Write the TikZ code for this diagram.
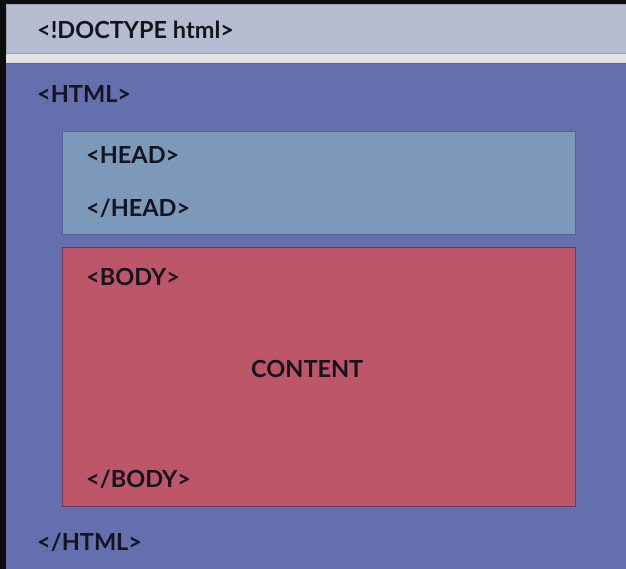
\documentclass[tikz,border=0pt]{standalone}
\usepackage{fontspec}
\setmainfont{Lato}
\definecolor{bgc}{HTML}{0D0D0D}
\definecolor{barc}{HTML}{B7BDD0}
\definecolor{barb}{HTML}{9A9EB4}
\definecolor{stripc}{HTML}{E2E2E2}
\definecolor{htmlc}{HTML}{6470AD}
\definecolor{headc}{HTML}{7D99B9}
\definecolor{headb}{HTML}{56619A}
\definecolor{bodyc}{HTML}{BD5669}
\definecolor{bodyb}{HTML}{6A3A5A}
\definecolor{txtc}{HTML}{14141E}
\tikzset{
  tag/.style={anchor=base west, inner sep=0pt, text=txtc, font=\fontsize{23.5}{27}\selectfont\bfseries},
}
\begin{document}
\begin{tikzpicture}[x=1pt,y=-1pt]
\fill[bgc] (0,0) rectangle (626,569);
\useasboundingbox (0,0) rectangle (626,569);
% light strip behind bar bottom
\fill[stripc] (6,50) rectangle (626,64);
% doctype bar
\filldraw[fill=barc, draw=barb, line width=0.8pt] (6,4) rectangle (630,53);
% html box
\fill[htmlc] (6,63) rectangle (626,569);
\draw[headb, line width=0.8pt] (6,63) -- (626,63);
% head
\node[draw=headb, fill=headc, line width=1pt, minimum width=513pt, minimum height=103pt, anchor=north west, inner sep=0pt] (head) at (61.5,131.5) {};
% body
\node[draw=bodyb, fill=bodyc, line width=1pt, minimum width=513pt, minimum height=258pt, anchor=north west, inner sep=0pt] (body) at (61.5,247.5) {};
% texts
\node[tag] (doctype) at (37,39) {<!DOCTYPE html>};
\node[tag] (htmlopen) at (37,103) {<HTML>};
\node[tag] (headopen) at (86,164) {<HEAD>};
\node[tag] (headclose) at (86,217) {</HEAD>};
\node[tag] (bodyopen) at (86,285) {<BODY>};
\node[tag] (content) at (251,377) {CONTENT};
\node[tag] (bodyclose) at (86,487) {</BODY>};
\node[tag] (htmlclose) at (37,550) {</HTML>};
\end{tikzpicture}
\end{document}
